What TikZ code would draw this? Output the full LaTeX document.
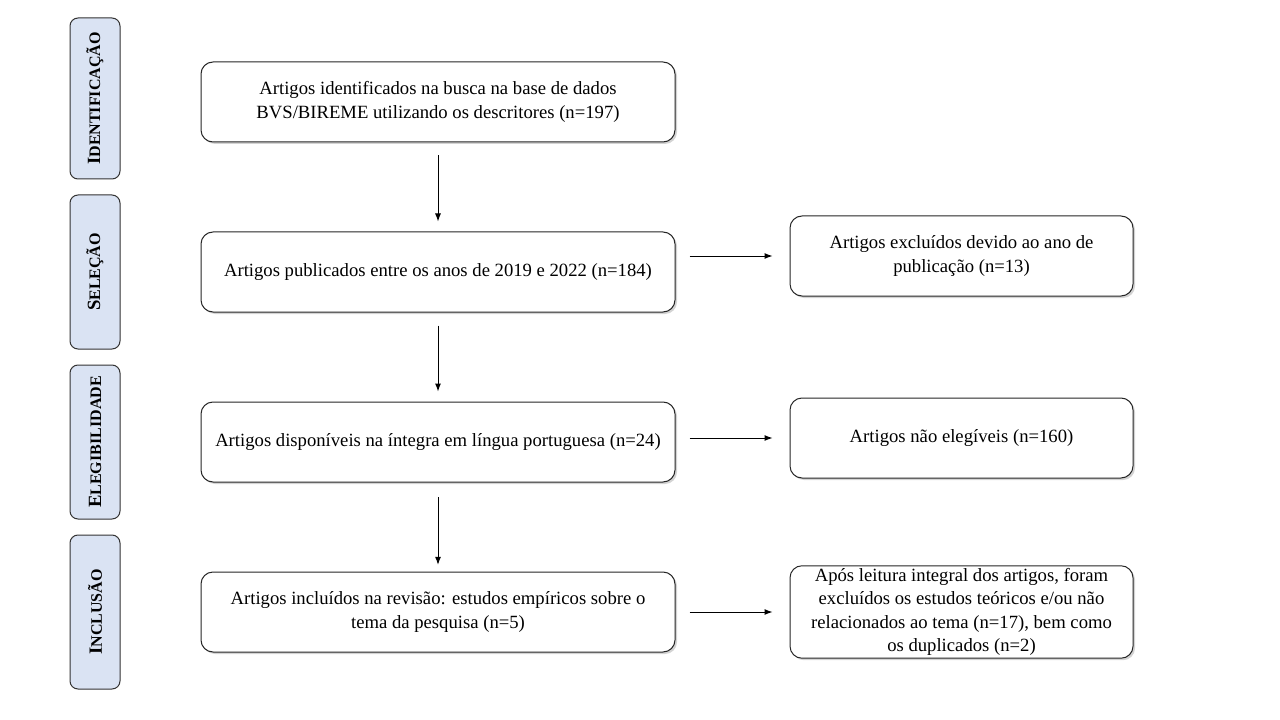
\documentclass[tikz,border=0pt]{standalone}
\usepackage{fontspec}
\setmainfont{Liberation Serif}
\usetikzlibrary{arrows.meta,shadows}
\definecolor{stagefill}{HTML}{DAE3F3}
\newcommand{\stagename}[2]{\textbf{{\fontsize{14}{14}\selectfont #1}{\fontsize{12}{12}\selectfont #2}}}
\tikzset{
  stepbox/.style={draw=black!85, line width=0.75pt, rounded corners=9pt, fill=white,
    align=center, font=\fontsize{14}{17.5}\selectfont,
    drop shadow={opacity=0.35, shadow xshift=1.5pt, shadow yshift=-1.5pt}},
  stagebox/.style={draw=black!80, line width=0.75pt, rounded corners=6pt, fill=stagefill,
    rotate=90, minimum width=115.5pt, minimum height=37.5pt, inner sep=0pt},
  flow/.style={-{Latex[length=6pt,width=4.5pt]}, line width=0.75pt}
}
\begin{document}
\begin{tikzpicture}[x=0.75pt, y=-0.75pt]
  \useasboundingbox (0,0) rectangle (1280,720);
  % stages on the left
  \node[stagebox, minimum width=120.75pt] (ident) at (95,98.5) {\stagename{I}{DENTIFICAÇÃO}};
  \node[stagebox] (selec) at (95,272) {\stagename{S}{ELEÇÃO}};
  \node[stagebox] (eleg) at (95,442) {\stagename{E}{LEGIBILIDADE}};
  \node[stagebox] (incl) at (95,612) {\stagename{I}{NCLUSÃO}};
  % main column
  \node[stepbox, minimum width=355.5pt, minimum height=60pt] (busca) at (438,102)
    {Artigos identificados na busca na base de dados\\BVS/BIREME utilizando os descritores (n=197)};
  \node[stepbox, minimum width=355.5pt, minimum height=60pt] (anos) at (438,272)
    {Artigos publicados entre os anos de 2019 e 2022 (n=184)};
  \node[stepbox, minimum width=355.5pt, minimum height=60pt] (integra) at (438,442)
    {Artigos disponíveis na íntegra em língua portuguesa (n=24)};
  \node[stepbox, minimum width=355.5pt, minimum height=60pt] (revisao) at (438,612)
    {Artigos incluídos na revisão: estudos empíricos sobre o\\tema da pesquisa (n=5)};
  % excluded column
  \node[stepbox, minimum width=257.25pt, minimum height=60pt] (excano) at (961.5,256)
    {Artigos excluídos devido ao ano de\\publicação (n=13)};
  \node[stepbox, minimum width=257.25pt, minimum height=60pt] (naoeleg) at (961.5,438)
    {Artigos não elegíveis (n=160)};
  \node[stepbox, minimum width=257.25pt, minimum height=69pt, inner sep=2pt] (exctema) at (961.5,612)
    {Após leitura integral dos artigos, foram\\excluídos os estudos teóricos e/ou não\\relacionados ao tema (n=17), bem como\\os duplicados (n=2)};
  % arrows
  \draw[flow, shorten <=9.75pt, shorten >=7.5pt] (busca) -- (anos);
  \draw[flow, shorten <=9.75pt, shorten >=7.5pt] (anos) -- (integra);
  \draw[flow, shorten <=11pt, shorten >=5pt] (integra) -- (revisao);
  \draw[flow, shorten <=10.5pt, shorten >=12.75pt] (anos.east |- excano) -- (excano);
  \draw[flow, shorten <=10.5pt, shorten >=12.75pt] (integra.east |- naoeleg) -- (naoeleg);
  \draw[flow, shorten <=10.5pt, shorten >=12.75pt] (revisao.east) -- (exctema);
\end{tikzpicture}
\end{document}
